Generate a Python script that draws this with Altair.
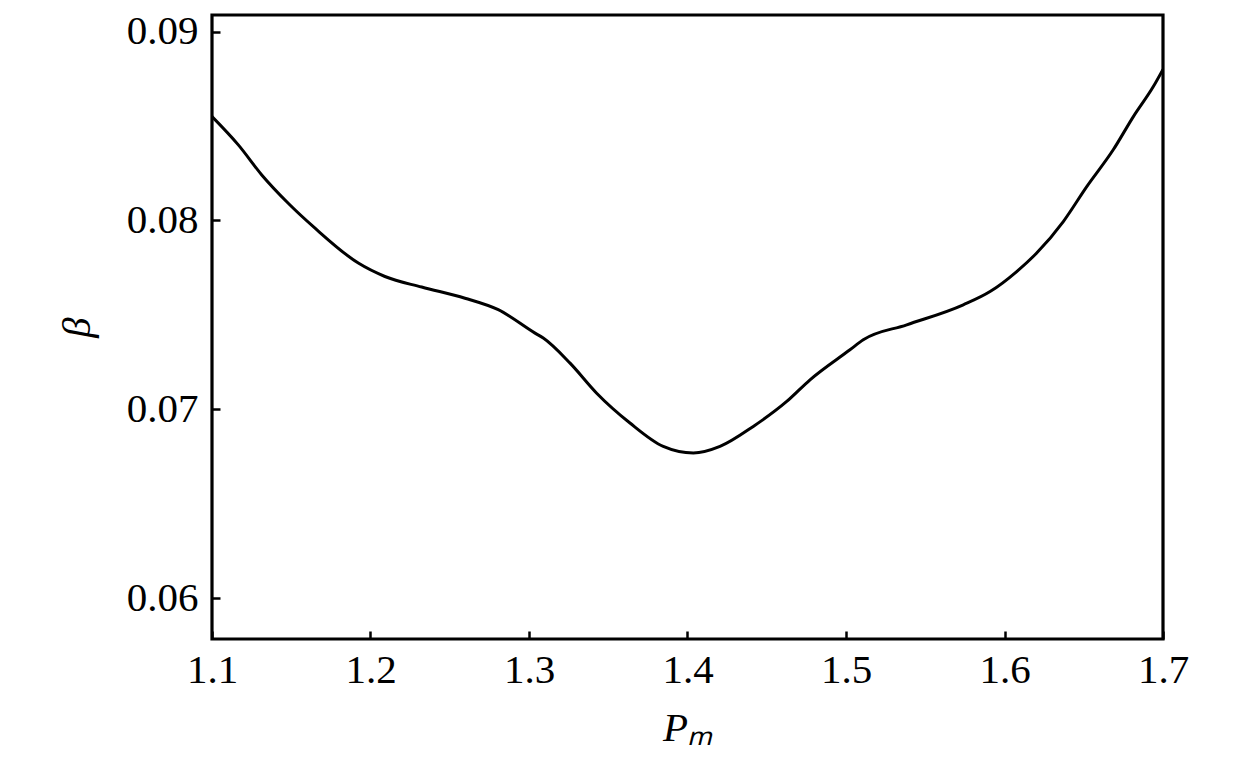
import altair as alt
import pandas as pd

pm = [1.1, 1.1166, 1.1314, 1.1481, 1.1650, 1.1923, 1.2091, 1.2323, 1.2596, 1.2806,
      1.3038, 1.3090, 1.3259, 1.3427, 1.3637, 1.3847, 1.4037, 1.4205, 1.4415, 1.4626,
      1.4773, 1.5025, 1.5109, 1.5383, 1.5740, 1.5909, 1.6077, 1.6203, 1.6371, 1.6519,
      1.6686, 1.6813, 1.6939, 1.7]
beta = [0.0855, 0.0840, 0.08241, 0.08091, 0.07959, 0.07774, 0.07703, 0.07647, 0.07588, 0.07527,
        0.07403, 0.07377, 0.07244, 0.07085, 0.06927, 0.06803, 0.06768, 0.06803, 0.06909, 0.07041,
        0.07156, 0.07315, 0.07368, 0.07447, 0.07553, 0.07623, 0.07729, 0.07827, 0.07994, 0.08179,
        0.08374, 0.0855, 0.08709, 0.0880]
x_ticks = [1.1, 1.2, 1.3, 1.4, 1.5, 1.6, 1.7]
y_ticks = [0.06, 0.07, 0.08, 0.09]

df = pd.DataFrame({"pm": pm, "beta": beta})

W, H = 951, 624
FONT = "Liberation Serif"
FS = 41

xscale = alt.Scale(domain=[1.1, 1.7], nice=False, zero=False)
yscale = alt.Scale(domain=[0.05783, 0.09088], nice=False, zero=False)

main = alt.Chart(df).mark_line(color="black", strokeWidth=3, interpolate="monotone", clip=True).encode(
    x=alt.X("pm:Q", scale=xscale,
            axis=alt.Axis(values=x_ticks, format=".1f", title="Pₘ", titleFontStyle="italic",
                          titleFont=FONT, titleFontSize=FS, titleFontWeight="normal",
                          titleColor="black", titlePadding=18,
                          labelFont=FONT, labelFontSize=FS, labelColor="black",
                          labelPadding=11, ticks=False, domain=False, grid=False,
                          labelFlush=False)),
    y=alt.Y("beta:Q", scale=yscale,
            axis=alt.Axis(values=y_ticks, format=".2f", title="β", titleFontStyle="italic",
                          titleFont=FONT, titleFontSize=FS, titleFontWeight="normal",
                          titleColor="black", titlePadding=28,
                          labelFont=FONT, labelFontSize=FS, labelColor="black",
                          labelPadding=14, ticks=False, domain=False, grid=False,
                          labelFlush=False)),
)

ticks_layer = alt.Chart(df).mark_line(opacity=0).encode(
    x=alt.X("pm:Q", scale=xscale,
            axis=alt.Axis(orient="top", offset=-H, values=x_ticks, labels=False, title=None,
                          ticks=True, tickSize=8, tickWidth=2.5, tickColor="black",
                          domain=False, grid=False)),
    y=alt.Y("beta:Q", scale=yscale,
            axis=alt.Axis(orient="right", offset=-W, values=y_ticks, labels=False, title=None,
                          ticks=True, tickSize=8, tickWidth=2.5, tickColor="black",
                          domain=False, grid=False)),
)

chart = alt.layer(main, ticks_layer).resolve_axis(x="independent", y="independent").properties(
    width=W, height=H,
    autosize=alt.AutoSizeParams(type="none"),
    padding={"left": 204, "top": 7, "right": 80, "bottom": 120},
    background="white",
).configure_view(stroke="black", strokeWidth=3.2)

chart.save("out.html", embed_options={"renderer": "svg", "actions": False})
